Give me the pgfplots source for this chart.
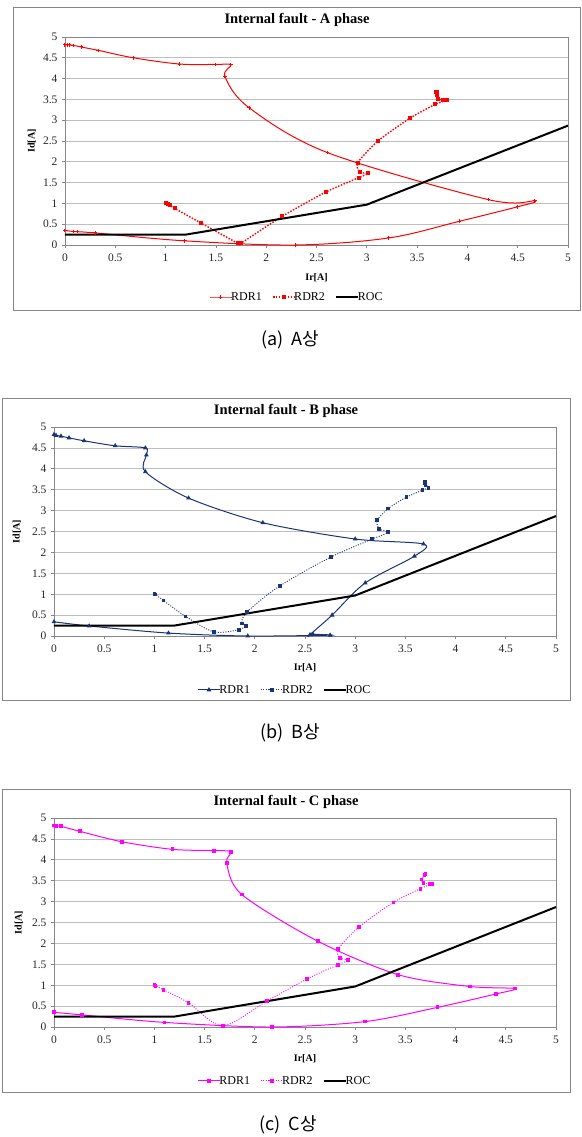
\documentclass[border=0pt]{standalone}
\usepackage{fontspec}
\setmainfont{Liberation Serif}
\newfontfamily\kr{Noto Sans CJK KR}
\usepackage{pgfplots}
\pgfplotsset{compat=1.18}
\definecolor{rdred}{RGB}{255,0,0}
\definecolor{navyb}{RGB}{28,52,118}
\definecolor{magc}{RGB}{255,0,255}
\definecolor{gridg}{RGB}{190,190,190}
\definecolor{axg}{RGB}{134,134,134}
\pgfplotsset{
  panel/.style={
    scale only axis, anchor=south west,
    xmin=0,xmax=5,ymin=0,ymax=5,
    xtick={0,0.5,1,1.5,2,2.5,3,3.5,4,4.5,5},
    ytick={0,0.5,1,1.5,2,2.5,3,3.5,4,4.5,5},
    xticklabels={0,0.5,1,1.5,2,2.5,3,3.5,4,4.5,5},
    yticklabels={0,0.5,1,1.5,2,2.5,3,3.5,4,4.5,5},
    ymajorgrids, grid style={gridg,line width=0.7pt},
    axis line style={axg,line width=0.7pt},
    tick style={axg,line width=0.7pt},
    tick align=outside, major tick length=3pt,
    xtick pos=bottom, ytick pos=left,
    ticklabel style={font=\fontsize{11.5}{13}\selectfont, text=black!85},
    xticklabel style={yshift=-2pt},
    yticklabel style={xshift=-1pt},
    xlabel={\textbf{Ir[A]}}, ylabel={\textbf{Id[A]}},
    label style={font=\fontsize{12.5}{14}\selectfont},
    legend columns=3,
    legend style={draw=none, fill=none, font=\fontsize{12}{14}\selectfont, anchor=center,
      /tikz/every even column/.append style={column sep=8pt},
      /tikz/every odd column/.append style={column sep=-3pt}},
    legend image code/.code={\draw[mark repeat=2,mark phase=2,#1] plot coordinates {(0pt,0pt) (11pt,0pt) (22pt,0pt)};},
  },
}
\begin{document}
\begin{tikzpicture}
\useasboundingbox[fill=white] (0pt,0pt) rectangle (581pt,-1137pt);
% ---------- Panel A ----------
\draw[axg, line width=0.8pt] (13pt,-7pt) rectangle (580pt,-310pt);
\node[font=\bfseries\fontsize{14.5}{16}\selectfont] at (297pt,-20pt) {Internal fault - A phase};
\begin{axis}[panel, at={(65pt,-245pt)}, width=503pt, height=208pt,
  legend style={at={(0.461,-0.25)}},
  every axis x label/.style={at={(axis description cs:0.5,-0.159)},anchor=center},
  every axis y label/.style={at={(axis description cs:-0.066,0.5)},rotate=90,anchor=center}]
\addplot[rdred, line width=1pt, smooth, tension=0.55, mark=+, mark size=1.8pt, mark options={solid}] coordinates {
(0,4.81)(0.02,4.812)(0.04,4.81)(0.08,4.80)(0.16,4.76)(0.33,4.68)(0.68,4.50)(1.14,4.35)(1.50,4.34)(1.65,4.33)(1.59,4.05)(1.83,3.30)(2.61,2.22)(4.21,1.09)(4.67,1.06)(4.50,0.92)(3.92,0.57)(3.22,0.17)(2.29,0.0)(1.19,0.10)(0.30,0.29)(0.12,0.32)(0.08,0.325)(0,0.35)};
\addlegendentry{RDR1}
\addplot[rdred, line width=1.4pt, smooth, tension=0.4, dash pattern=on 1.5pt off 1.5pt, mark=square*, mark size=1.3pt, mark options={solid}] coordinates {
(1.00,1.00)(1.02,0.98)(1.04,0.96)(1.09,0.88)(1.35,0.53)(1.72,0.04)(1.75,0.045)(2.16,0.69)(2.59,1.27)(2.92,1.62)(3.01,1.72)(2.93,1.75)(2.91,1.98)(3.11,2.50)(3.43,3.05)(3.68,3.38)(3.80,3.49)(3.76,3.495)(3.71,3.50)(3.70,3.60)(3.69,3.67)(3.695,3.69)};
\addlegendentry{RDR2}
\addplot[black, line width=2pt] coordinates {(0,0.25)(1.2,0.25)(3,0.97)(5,2.87)};
\addlegendentry{ROC}
\end{axis}
\node[font=\kr\fontsize{18}{21}\selectfont] at (290pt,-340pt) {(a)\ \ A상};
% ---------- Panel B ----------
\draw[axg, line width=0.8pt] (2pt,-398pt) rectangle (570pt,-700pt);
\node[font=\bfseries\fontsize{14.5}{16}\selectfont] at (286pt,-411pt) {Internal fault - B phase};
\begin{axis}[panel, at={(54pt,-636pt)}, width=502pt, height=209pt,
  legend style={at={(0.460,-0.258)}},
  every axis x label/.style={at={(axis description cs:0.5,-0.153)},anchor=center},
  every axis y label/.style={at={(axis description cs:-0.074,0.5)},rotate=90,anchor=center}]
\addplot[navyb, line width=1pt, smooth, tension=0.5, mark=triangle*, mark size=1.8pt, mark options={solid}] coordinates {
(0,4.82)(0.02,4.80)(0.07,4.78)(0.15,4.74)(0.30,4.67)(0.61,4.55)(0.91,4.50)(0.92,4.33)(0.91,3.93)(1.34,3.30)(2.08,2.71)(3.00,2.32)(3.68,2.20)(3.59,1.91)(3.10,1.27)(2.77,0.50)(2.55,0.03)(2.58,0.04)(2.75,0.02)(1.93,0.00)(1.14,0.07)(0.35,0.24)(0,0.34)};
\addlegendentry{RDR1}
\addplot[navyb, line width=0.9pt, smooth, tension=0.5, dash pattern=on 1pt off 1.5pt, mark=square*, mark size=1.4pt, mark options={solid}] coordinates {
(1.00,1.00)(1.01,0.995)(1.09,0.85)(1.31,0.47)(1.59,0.10)(1.84,0.15)(1.91,0.25)(1.87,0.30)(1.92,0.57)(2.25,1.20)(2.76,1.89)(3.17,2.32)(3.33,2.48)(3.24,2.56)(3.22,2.77)(3.33,3.05)(3.51,3.32)(3.67,3.49)(3.73,3.55)(3.70,3.62)(3.69,3.67)(3.695,3.69)};
\addlegendentry{RDR2}
\addplot[black, line width=2pt] coordinates {(0,0.25)(1.2,0.25)(3,0.97)(5,2.87)};
\addlegendentry{ROC}
\end{axis}
\node[font=\kr\fontsize{18}{21}\selectfont] at (290pt,-733pt) {(b)\ \ B상};
% ---------- Panel C ----------
\draw[axg, line width=0.8pt] (2pt,-789pt) rectangle (570pt,-1092pt);
\node[font=\bfseries\fontsize{14.5}{16}\selectfont] at (286pt,-802pt) {Internal fault - C phase};
\begin{axis}[panel, at={(54pt,-1027pt)}, width=502pt, height=209pt,
  legend style={at={(0.460,-0.258)}},
  every axis x label/.style={at={(axis description cs:0.5,-0.153)},anchor=center},
  every axis y label/.style={at={(axis description cs:-0.070,0.5)},rotate=90,anchor=center}]
\addplot[magc, line width=1pt, smooth, tension=0.5, mark=square*, mark size=1.4pt, mark options={solid}] coordinates {
(0,4.82)(0.02,4.81)(0.07,4.80)(0.26,4.68)(0.68,4.43)(1.18,4.25)(1.59,4.22)(1.76,4.19)(1.72,3.92)(1.87,3.17)(2.63,2.05)(3.43,1.25)(4.14,0.97)(4.59,0.92)(4.40,0.79)(3.82,0.47)(3.10,0.13)(2.17,0.00)(1.10,0.11)(0.28,0.29)(0,0.35)};
\addlegendentry{RDR1}
\addplot[magc, line width=0.9pt, smooth, tension=0.5, dash pattern=on 1pt off 1.5pt, mark=square*, mark size=1.4pt, mark options={solid}] coordinates {
(1.00,1.00)(1.01,0.99)(1.09,0.89)(1.34,0.58)(1.68,0.03)(2.12,0.62)(2.52,1.15)(2.83,1.49)(2.93,1.60)(2.85,1.65)(2.83,1.86)(3.04,2.40)(3.38,2.98)(3.65,3.31)(3.77,3.43)(3.74,3.425)(3.68,3.44)(3.66,3.53)(3.69,3.63)(3.70,3.67)};
\addlegendentry{RDR2}
\addplot[black, line width=2pt] coordinates {(0,0.25)(1.2,0.25)(3,0.97)(5,2.87)};
\addlegendentry{ROC}
\end{axis}
\node[font=\kr\fontsize{18}{21}\selectfont] at (288pt,-1125pt) {(c)\ \ C상};
\end{tikzpicture}
\end{document}
